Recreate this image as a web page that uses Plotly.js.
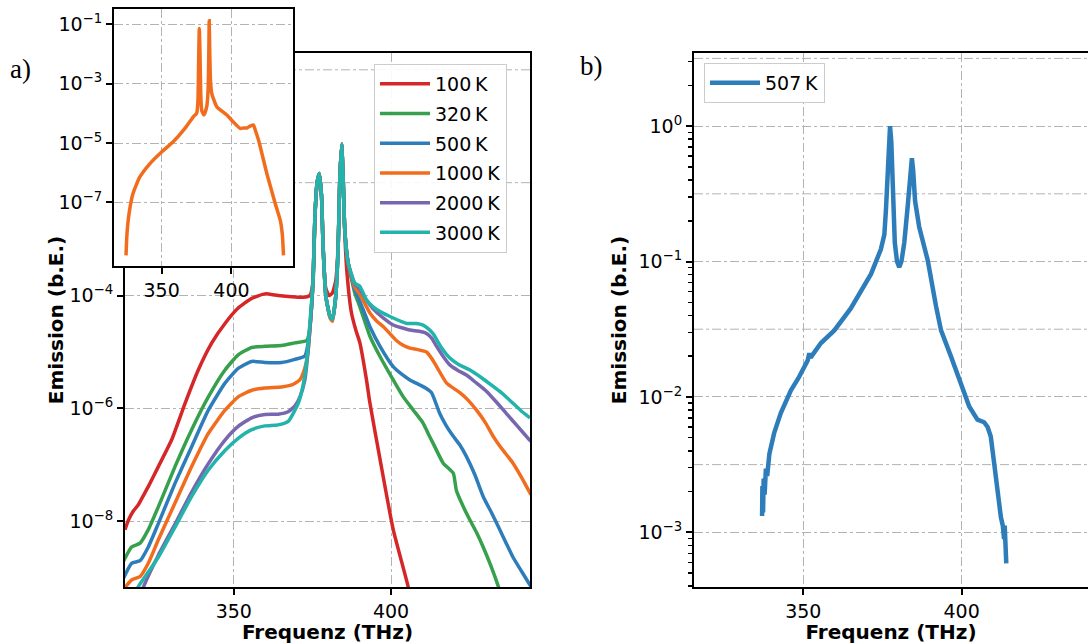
<!DOCTYPE html>
<html><head><meta charset="utf-8">
<script src="https://cdn.plot.ly/plotly-3.0.1.min.js"></script>
<style>html,body{margin:0;padding:0;background:#fff}#chart{width:1088px;height:644px}</style>
</head><body><div id="chart"></div>
<script>
// ---------- Panel a: emission spectra at several temperatures ----------
const seriesNames = ['100\u2009K', '320\u2009K', '500\u2009K', '1000\u2009K', '2000\u2009K', '3000\u2009K'];
const seriesColors = ['#d62728', '#37a04c', '#2e7dbb', '#f26c1d', '#7867ae', '#22b3aa'];

const freq100 = [315.4, 316.5, 318.0, 319.6, 321.0, 322.8, 326.0, 330.2, 334.5, 338.7, 343.0, 347.2, 351.4, 355.7, 359.9, 364.1, 368.4, 372.0, 374.2, 375.2, 375.8, 376.5, 377.2, 377.9, 378.4, 379.2, 380.3, 381.3, 382.4, 383.2, 383.7, 384.3, 384.8, 385.3, 386.0, 387.4, 388.8, 390.1, 392.2, 393.3, 396.5, 400.7, 405.4, 407.0];
const emis100 = [7.1e-9, 1.05e-8, 1.5e-8, 1.95e-8, 2.7e-8, 4.1e-8, 9.3e-8, 2.75e-7, 1.23e-6, 4.8e-6, 1.45e-5, 3.2e-5, 6.0e-5, 8.9e-5, 1.07e-4, 1.0e-4, 9.5e-5, 9.3e-5, 1.0e-4, 1.8e-4, 2.5e-3, 1.0e-2, 1.45e-2, 5.8e-3, 7.4e-4, 1.4e-4, 1.0e-4, 1.1e-4, 1.8e-4, 7.9e-4, 1.1e-2, 4.8e-2, 1.1e-2, 1.26e-3, 2.5e-4, 5.0e-5, 2.45e-5, 1.45e-5, 3.2e-6, 1.23e-6, 1.26e-7, 7.1e-9, 7.1e-10, 2.5e-10];

const freq320 = [315.0, 317.5, 320.2, 322.8, 326.0, 331.3, 336.6, 341.9, 347.2, 351.4, 355.7, 359.9, 365.2, 369.4, 373.2, 374.0, 374.6, 375.2, 375.8, 376.5, 377.2, 377.9, 378.4, 379.3, 380.6, 381.4, 382.4, 383.2, 383.7, 384.3, 384.8, 385.3, 386.4, 388.5, 390.1, 393.3, 396.5, 400.7, 403.9, 407.1, 410.2, 411.8, 413.4, 416.6, 419.8, 420.8, 423.0, 425.1, 427.2, 429.3, 431.8, 434.1, 435.0];
const emis320 = [2.0e-9, 3.5e-9, 4.1e-9, 7.1e-9, 1.8e-8, 9.3e-8, 4.2e-7, 1.6e-6, 4.8e-6, 8.9e-6, 1.2e-5, 1.26e-5, 1.3e-5, 1.45e-5, 1.6e-5, 2.2e-5, 5.0e-5, 1.8e-4, 2.5e-3, 1.0e-2, 1.45e-2, 5.8e-3, 7.4e-4, 9.5e-5, 4.3e-5, 3.8e-5, 9.5e-5, 7.4e-4, 1.1e-2, 4.8e-2, 1.1e-2, 1.45e-3, 3.7e-4, 1.1e-4, 6.3e-5, 1.9e-5, 8.3e-6, 3.2e-6, 1.6e-6, 9.3e-7, 5.5e-7, 3.6e-7, 2.4e-7, 1.07e-7, 7.1e-8, 3.5e-8, 1.8e-8, 1.05e-8, 6.3e-9, 3.5e-9, 1.6e-9, 7.1e-10, 5.0e-10];

const freq500 = [315.0, 317.5, 320.2, 322.8, 326.0, 331.3, 336.6, 341.9, 347.2, 351.4, 355.7, 359.9, 365.2, 369.4, 372.6, 373.6, 374.6, 375.2, 375.8, 376.5, 377.2, 377.9, 378.4, 379.3, 380.6, 381.4, 382.4, 383.2, 383.7, 384.3, 384.8, 385.3, 386.4, 388.5, 390.1, 393.3, 396.5, 400.7, 403.5, 406.0, 409.2, 411.0, 412.9, 415.5, 417.5, 419.8, 422.0, 424.0, 426.7, 429.3, 432.0, 434.6, 436.7, 438.8, 441.5, 443.9, 445.0];
const emis500 = [1.0e-9, 1.8e-9, 2.0e-9, 3.5e-9, 9.1e-9, 4.7e-8, 2.1e-7, 9.3e-7, 2.8e-6, 5.1e-6, 6.8e-6, 6.5e-6, 6.5e-6, 7.4e-6, 8.5e-6, 1.4e-5, 5.0e-5, 1.8e-4, 2.5e-3, 1.0e-2, 1.45e-2, 5.8e-3, 7.4e-4, 9.5e-5, 4.3e-5, 3.8e-5, 9.5e-5, 7.4e-4, 1.1e-2, 4.8e-2, 1.1e-2, 1.45e-3, 3.7e-4, 1.26e-4, 7.9e-5, 2.8e-5, 1.26e-5, 5.5e-6, 4.0e-6, 3.2e-6, 2.6e-6, 2.3e-6, 1.9e-6, 8.1e-7, 5.0e-7, 3.2e-7, 2.2e-7, 1.4e-7, 6.6e-8, 2.75e-8, 1.4e-8, 7.1e-9, 4.0e-9, 2.3e-9, 1.3e-9, 7.9e-10, 6.3e-10];

const freq1000 = [315.0, 317.5, 320.2, 322.8, 326.0, 331.3, 336.6, 341.9, 347.2, 351.4, 355.7, 359.9, 365.2, 368.4, 371.0, 372.5, 373.6, 374.6, 375.2, 375.8, 376.5, 377.2, 377.9, 378.4, 379.3, 380.6, 381.4, 382.4, 383.2, 383.7, 384.3, 384.8, 385.3, 386.4, 388.5, 390.1, 393.3, 395.5, 397.6, 401.7, 404.0, 406.0, 408.5, 411.3, 413.0, 414.5, 417.7, 421.9, 424.5, 427.2, 430.0, 432.5, 435.0, 438.8, 441.5, 444.5];
const emis1000 = [6.3e-10, 9.1e-10, 1.05e-9, 1.8e-9, 4.7e-9, 2.1e-8, 9.3e-8, 3.6e-7, 9.3e-7, 1.6e-6, 2.1e-6, 2.3e-6, 2.4e-6, 2.6e-6, 3.2e-6, 5.0e-6, 1.0e-5, 5.0e-5, 1.8e-4, 2.5e-3, 1.0e-2, 1.45e-2, 5.8e-3, 7.4e-4, 9.5e-5, 4.0e-5, 3.5e-5, 9.5e-5, 7.4e-4, 1.1e-2, 4.8e-2, 1.1e-2, 1.45e-3, 3.7e-4, 1.4e-4, 1.05e-4, 4.9e-5, 3.5e-5, 2.8e-5, 1.6e-5, 1.3e-5, 1.17e-5, 1.1e-5, 1.0e-5, 7.6e-6, 5.5e-6, 2.8e-6, 1.9e-6, 1.4e-6, 9.3e-7, 5.6e-7, 3.2e-7, 2.0e-7, 1.07e-7, 6.0e-8, 2.95e-8];

const freq2000 = [318.5, 321.0, 326.0, 331.3, 336.6, 341.9, 347.2, 351.4, 355.7, 359.9, 364.1, 367.3, 369.5, 371.0, 372.6, 373.6, 374.6, 375.2, 375.8, 376.5, 377.2, 377.9, 378.4, 379.3, 380.6, 381.4, 382.4, 383.2, 383.7, 384.3, 384.8, 385.3, 386.4, 388.5, 390.1, 392.2, 394.3, 397.5, 400.7, 406.0, 408.5, 410.8, 412.8, 414.5, 416.6, 418.7, 421.3, 424.0, 427.2, 430.4, 433.5, 436.7, 440.0, 443.6, 444.5];
const emis2000 = [2.5e-10, 6.3e-10, 2.5e-9, 8.9e-9, 3.3e-8, 1.05e-7, 2.75e-7, 4.8e-7, 6.8e-7, 7.8e-7, 7.9e-7, 8.7e-7, 1.12e-6, 1.58e-6, 3.2e-6, 1.0e-5, 5.0e-5, 1.8e-4, 2.5e-3, 1.0e-2, 1.45e-2, 5.8e-3, 7.4e-4, 9.5e-5, 4.3e-5, 3.8e-5, 9.5e-5, 7.4e-4, 1.1e-2, 4.8e-2, 1.1e-2, 1.45e-3, 3.7e-4, 1.58e-4, 1.3e-4, 8.3e-5, 5.8e-5, 4.0e-5, 3.0e-5, 2.45e-5, 2.35e-5, 2.2e-5, 1.8e-5, 1.26e-5, 8.3e-6, 5.9e-6, 4.7e-6, 3.9e-6, 2.8e-6, 2.0e-6, 1.3e-6, 8.1e-7, 5.0e-7, 2.95e-7, 2.6e-7];

const freq3000 = [316.0, 318.0, 319.6, 322.8, 326.0, 331.3, 336.6, 341.9, 347.2, 351.4, 355.7, 359.9, 364.1, 367.3, 370.5, 372.0, 373.3, 374.2, 375.2, 375.8, 376.5, 377.2, 377.9, 378.4, 379.3, 380.6, 381.4, 382.4, 383.2, 383.7, 384.3, 384.8, 385.3, 386.4, 388.5, 390.1, 392.2, 394.3, 396.5, 400.7, 405.0, 408.0, 410.2, 411.8, 413.4, 416.0, 418.7, 421.5, 425.1, 428.8, 432.5, 435.6, 438.8, 441.5, 444.2];
const emis3000 = [2.5e-10, 4.0e-10, 6.9e-10, 1.26e-9, 2.3e-9, 7.9e-9, 2.75e-8, 8.1e-8, 1.8e-7, 2.95e-7, 4.2e-7, 4.9e-7, 5.1e-7, 5.9e-7, 1.23e-6, 2.5e-6, 7.9e-6, 3.2e-5, 1.8e-4, 2.5e-3, 1.0e-2, 1.45e-2, 5.8e-3, 7.4e-4, 9.5e-5, 4.3e-5, 3.8e-5, 9.5e-5, 7.4e-4, 1.1e-2, 4.8e-2, 1.1e-2, 1.45e-3, 3.7e-4, 1.66e-4, 1.45e-4, 8.3e-5, 6.3e-5, 5.2e-5, 4.0e-5, 3.2e-5, 3.2e-5, 3.0e-5, 2.6e-5, 2.1e-5, 1.2e-5, 7.8e-6, 6.0e-6, 4.8e-6, 3.5e-6, 2.45e-6, 1.8e-6, 1.23e-6, 8.9e-7, 6.8e-7];

// ---------- Inset: 1000 K over the full range ----------
const freqInset = [324.5, 325.2, 326.7, 329.5, 334.4, 341.5, 350.0, 358.3, 366.7, 372.7, 375.1, 376.0, 376.6, 377.0, 377.5, 378.0, 378.7, 380.3, 382.3, 383.3, 383.8, 384.1, 384.5, 385.0, 385.9, 389.5, 396.7, 401.4, 406.2, 408.6, 411.0, 413.4, 415.8, 417.0, 419.4, 425.4, 431.4, 435.0, 436.5, 437.3];
const emisInset = [1.66e-9, 8.9e-9, 4.3e-8, 2.0e-7, 7.2e-7, 2.0e-6, 5.0e-6, 1.1e-5, 3.1e-5, 7.6e-5, 1.0e-4, 2.5e-4, 1.0e-2, 7.1e-2, 1.0e-2, 5.0e-4, 1.26e-4, 8.7e-5, 1.66e-4, 6.3e-4, 1.0e-2, 1.29e-1, 1.0e-2, 1.26e-3, 4.7e-4, 1.66e-4, 8.7e-5, 5.1e-5, 3.1e-5, 3.2e-5, 3.2e-5, 3.7e-5, 4.0e-5, 2.8e-5, 1.26e-5, 9.3e-7, 9.1e-8, 2.5e-8, 7.9e-9, 1.66e-9];

// ---------- Panel b: measured spectrum at 507 K ----------
const nameB = '507\u2009K';
const colorB = '#2e7dbb';
const freqB = [337.0, 337.1, 337.3, 337.5, 337.8, 338.2, 338.6, 339.3, 340.0, 340.8, 342.9, 346.1, 348.5, 350.3, 351.4, 351.9, 352.3, 355.6, 359.8, 365.0, 367.2, 371.4, 374.5, 375.6, 376.1, 376.6, 377.0, 377.4, 377.8, 378.2, 378.9, 379.6, 380.3, 381.0, 381.9, 383.0, 383.5, 384.0, 384.3, 384.7, 385.3, 386.6, 389.3, 391.9, 393.5, 396.6, 399.8, 402.4, 405.0, 407.1, 408.2, 409.2, 410.3, 411.3, 412.4, 413.0, 413.4, 413.6, 413.9, 414.0, 414.1];
const emisB = [1.32e-3, 2.2e-3, 1.4e-3, 2.5e-3, 1.9e-3, 2.95e-3, 2.6e-3, 3.8e-3, 4.6e-3, 5.4e-3, 7.6e-3, 1.12e-2, 1.38e-2, 1.66e-2, 1.86e-2, 2.1e-2, 1.95e-2, 2.5e-2, 3.1e-2, 4.5e-2, 5.5e-2, 8.1e-2, 1.23e-1, 1.58e-1, 2.4e-1, 5.0e-1, 8.3e-1, 1.0, 7.6e-1, 3.5e-1, 1.38e-1, 1.0e-1, 9.1e-2, 1.0e-1, 1.38e-1, 2.6e-1, 3.5e-1, 5.4e-1, 5.8e-1, 4.7e-1, 2.8e-1, 1.8e-1, 1.02e-1, 4.7e-2, 3.1e-2, 2.0e-2, 1.26e-2, 8.5e-3, 6.8e-3, 6.5e-3, 6.0e-3, 5.1e-3, 3.2e-3, 2.0e-3, 1.29e-3, 1.12e-3, 8.9e-4, 1.12e-3, 7.1e-4, 8.9e-4, 5.9e-4];

// ---------- Ticks and grid positions ----------
const freqTicks = [350, 400];
const yTicksA = [1e-8, 1e-6, 1e-4];
const yTextA = ['10<sup>\u22128</sup>', '10<sup>\u22126</sup>', '10<sup>\u22124</sup>'];
const extraGridA = [1e-2, 1e0];            // grid lines hidden behind the inset on the left
const yTicksInset = [1e-7, 1e-5, 1e-3, 1e-1];
const yTextInset = ['10<sup>\u22127</sup>', '10<sup>\u22125</sup>', '10<sup>\u22123</sup>', '10<sup>\u22121</sup>'];
const yTicksB = [1e-3, 1e-2, 1e-1, 1e0];
const yTextB = ['10<sup>\u22123</sup>', '10<sup>\u22122</sup>', '10<sup>\u22121</sup>', '10<sup>0</sup>'];
const halfGridB = [3.162e-3, 3.162e-2, 3.162e-1, 3.162];
const minorMultipliers = [2, 3, 4, 5, 6, 7, 8, 9];
const minorDecadesB = [1e-4, 1e-3, 1e-2, 1e-1, 1e0];

const W = 1088, H = 644;
const font = 'DejaVu Sans';
const gridColor = '#b3b3b3';
const gridStyle = {showgrid: true, gridcolor: gridColor, gridwidth: 1, griddash: 'dashdot'};
const lineStyle = {showline: true, linecolor: '#000', linewidth: 2, zeroline: false,
  ticks: 'outside', ticklen: 6, tickwidth: 2, tickcolor: '#000',
  tickfont: {family: font, size: 19, color: '#000'}};

function dom(a, b, total) { return [a / total, b / total]; }
function domY(top, bottom) { return [1 - bottom / H, 1 - top / H]; }

const fa = [freq100, freq320, freq500, freq1000, freq2000, freq3000];
const ea = [emis100, emis320, emis500, emis1000, emis2000, emis3000];

const traces = [];
for (let i = 0; i < seriesNames.length; i++) {
  traces.push({
    x: fa[i], y: ea[i], xaxis: 'x', yaxis: 'y', type: 'scatter', mode: 'lines',
    name: seriesNames[i], legendgroup: 'g' + i, legend: 'legend',
    line: {color: seriesColors[i], width: 3.5, shape: 'spline', smoothing: 0.5}
  });
}
traces.push({
  x: freqB, y: emisB, xaxis: 'x2', yaxis: 'y2', type: 'scatter', mode: 'lines',
  name: nameB, legend: 'legend2', line: {color: colorB, width: 4.5}
});
traces.push({
  x: freqInset, y: emisInset, xaxis: 'x3', yaxis: 'y3', type: 'scatter', mode: 'lines',
  showlegend: false, line: {color: seriesColors[3], width: 3.5, shape: 'spline', smoothing: 0.5}
});

const minorB = [];
minorDecadesB.forEach(d => minorMultipliers.forEach(m => minorB.push(d * m)));

const titleFont = {family: font, size: 20, color: '#000'};
const gridShape = {type: 'line', layer: 'below', line: {color: gridColor, width: 1, dash: 'dashdot'}};

const layout = {
  width: W, height: H,
  margin: {l: 0, r: 0, t: 0, b: 0},
  paper_bgcolor: '#fff', plot_bgcolor: '#fff',
  font: {family: font, color: '#000'},
  xaxis: Object.assign({}, lineStyle, gridStyle, {
    domain: dom(125, 530, W), anchor: 'y', range: [315.4, 444.2], mirror: true,
    tickmode: 'array', tickvals: freqTicks,
    title: {text: '<b>Frequenz (THz)</b>', font: titleFont, standoff: 4}
  }),
  yaxis: Object.assign({}, lineStyle, gridStyle, {
    domain: domY(53, 587), anchor: 'x', type: 'log', range: [-9.165, 0.298], mirror: true,
    tickmode: 'array', tickvals: yTicksA, ticktext: yTextA,
    title: {text: '<b>Emission (b.E.)</b>', font: titleFont, standoff: 0}
  }),
  xaxis2: Object.assign({}, lineStyle, gridStyle, {
    domain: dom(694, 1088, W), anchor: 'y2', range: [315.5, 439.9], mirror: true,
    tickmode: 'array', tickvals: freqTicks,
    title: {text: '<b>Frequenz (THz)</b>', font: titleFont, standoff: 4}
  }),
  yaxis2: Object.assign({}, lineStyle, gridStyle, {
    domain: domY(53, 587), anchor: 'x2', type: 'log', range: [-3.404, 0.54], mirror: false,
    tickmode: 'array', tickvals: yTicksB, ticktext: yTextB,
    minor: {tickmode: 'array', tickvals: minorB, ticks: 'outside', ticklen: 4, tickwidth: 1.5, tickcolor: '#000', showgrid: false},
    title: {text: '<b>Emission (b.E.)</b>', font: titleFont, standoff: 6}
  }),
  xaxis3: Object.assign({}, lineStyle, gridStyle, {
    domain: dom(114, 293, W), anchor: 'y3', range: [315.9, 444.1], mirror: true,
    tickmode: 'array', tickvals: freqTicks
  }),
  yaxis3: Object.assign({}, lineStyle, gridStyle, {
    domain: domY(9, 266), anchor: 'x3', type: 'log', range: [-9.135, -0.495], mirror: true,
    tickmode: 'array', tickvals: yTicksInset, ticktext: yTextInset
  }),
  legend: {
    x: 374 / W, y: 1 - 64 / H, xanchor: 'left', yanchor: 'top',
    bgcolor: 'rgba(255,255,255,0.9)', bordercolor: '#cccccc', borderwidth: 1,
    font: {family: font, size: 19, color: '#000'}, tracegroupgap: 2, traceorder: 'grouped',
    itemwidth: 50
  },
  legend2: {
    x: 704 / W, y: 1 - 63 / H, xanchor: 'left', yanchor: 'top',
    bgcolor: 'rgba(255,255,255,0.9)', bordercolor: '#cccccc', borderwidth: 1,
    font: {family: font, size: 19, color: '#000'}, itemwidth: 50
  },
  shapes: halfGridB.map(v => Object.assign({}, gridShape, {
    xref: 'x2 domain', yref: 'y2', x0: 0, x1: 1, y0: v, y1: v
  })).concat(extraGridA.map(v => Object.assign({}, gridShape, {
    xref: 'x domain', yref: 'y', x0: 0, x1: 1, y0: v, y1: v
  }))),
  annotations: [
    {text: 'a)', xref: 'paper', yref: 'paper', x: 8 / W, y: 1 - 52 / H, xanchor: 'left', yanchor: 'top',
     showarrow: false, font: {family: 'Liberation Serif', size: 27, color: '#000'}},
    {text: 'b)', xref: 'paper', yref: 'paper', x: 578 / W, y: 1 - 49 / H, xanchor: 'left', yanchor: 'top',
     showarrow: false, font: {family: 'Liberation Serif', size: 27, color: '#000'}}
  ]
};

Plotly.newPlot('chart', traces, layout, {displayModeBar: false, staticPlot: true});
</script>
</body></html>
